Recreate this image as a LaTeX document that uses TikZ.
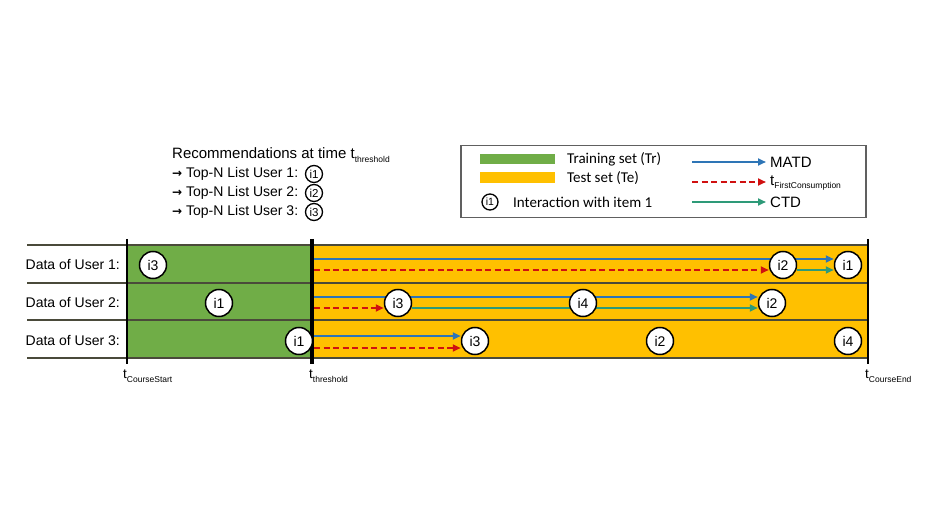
\documentclass[tikz,border=0pt]{standalone}
\usepackage{fontspec}
\setmainfont{Liberation Sans}
\newfontfamily\calib{Carlito}
\newfontfamily\dvs{DejaVu Sans}
\usetikzlibrary{arrows.meta}
\definecolor{trgreen}{HTML}{70AD47}
\definecolor{teyellow}{HTML}{FFC000}
\definecolor{matdblue}{HTML}{2E75B6}
\definecolor{fcred}{HTML}{D01010}
\definecolor{ctdgreen}{HTML}{2E9A78}
\definecolor{rowline}{HTML}{4A4A3A}
\newcommand{\tsub}[1]{t\raisebox{-0.45ex}{\fontsize{8.5}{9}\selectfont #1}}
\newcommand{\rarr}{{\dvs\bfseries\fontsize{12}{12}\selectfont →}}
\pgfdeclarelayer{bg}
\pgfdeclarelayer{mid}
\pgfsetlayers{bg,mid,main}
\begin{document}
\begin{tikzpicture}[x=1pt,y=-1pt,
  item/.style={circle,draw=black,line width=1.5pt,fill=white,minimum size=27pt,inner sep=0pt,font=\fontsize{14}{15}\selectfont},
  smallitem/.style={circle,draw=black,line width=1.3pt,fill=white,minimum size=17pt,inner sep=0pt,font=\fontsize{11.5}{12}\selectfont},
  rowlabel/.style={anchor=east,font=\fontsize{14}{15}\selectfont,inner sep=0pt},
  tlabel/.style={anchor=north west,font=\fontsize{13.5}{15}\selectfont,inner sep=0pt},
  tip/.style={-{Triangle[length=8pt,width=7pt]}},
  matd/.style={tip,draw=matdblue,line width=2.3pt},
  ctd/.style={tip,draw=ctdgreen,line width=2.3pt},
  fcons/.style={tip,draw=fcred,line width=2.3pt,dash pattern=on 6pt off 3.5pt},
  rline/.style={draw=rowline,line width=1.8pt},
  legtext/.style={anchor=west,inner sep=0pt,font=\calib\fontsize{15}{17}\selectfont},
  legtextb/.style={anchor=west,inner sep=0pt,font=\fontsize{15}{17}\selectfont},
  rectext/.style={anchor=west,inner sep=0pt,font=\fontsize{14}{16}\selectfont}]
\useasboundingbox (0,0) rectangle (946,532);

% ---------- background fills ----------
\begin{pgfonlayer}{bg}
\fill[trgreen] (127,245) rectangle (312,358);
\fill[teyellow] (312,245) rectangle (868,358);
\foreach \y in {245,283,320,358} \draw[rline] (27,\y) -- (868,\y);
\draw[black,line width=2.2pt] (127,239) -- (127,364);
\draw[black,line width=2.2pt] (868,239) -- (868,364);
\draw[black,line width=4.5pt] (312,239) -- (312,364);
\end{pgfonlayer}

% ---------- row labels ----------
\node[rowlabel] (u1) at (120,265) {Data of User 1:};
\node[rowlabel] (u2) at (120,303) {Data of User 2:};
\node[rowlabel] (u3) at (120,341) {Data of User 3:};

% ---------- time labels ----------
\node[tlabel] (tcs) at (123,370) {\tsub{CourseStart}};
\node[tlabel] (tth) at (309,370) {\tsub{threshold}};
\node[tlabel] (tce) at (865,370) {\tsub{CourseEnd}};

% ---------- items ----------
\node[item] (a3) at (153,265) {i3};
\node[item] (a2) at (783,265) {i2};
\node[item] (a1) at (848,265) {i1};
\node[item] (b1) at (219,303) {i1};
\node[item] (b3) at (398,303) {i3};
\node[item] (b4) at (583,303) {i4};
\node[item] (b2) at (772,303) {i2};
\node[item] (c1) at (299,341) {i1};
\node[item] (c3) at (475,341) {i3};
\node[item] (c2) at (660,341) {i2};
\node[item] (c4) at (848,341) {i4};

% ---------- start coordinates ----------
\coordinate (bs1) at (314,259);
\coordinate (rs1) at (314,270);
\coordinate (bs2) at (314,297);
\coordinate (rs2) at (314,308);
\coordinate (bs3) at (314,336);
\coordinate (rs3) at (314,348);

\begin{pgfonlayer}{mid}
% user 1
\draw[matd] (bs1) -- (a1.west |- bs1);
\draw[fcons] (rs1) -- (a2.west |- rs1);
\draw[ctd] (a2.east |- rs1) -- (a1.west |- rs1);
% user 2
\draw[matd] (bs2) -- (b2.west |- bs2);
\draw[fcons] (rs2) -- (b3.west |- rs2);
\draw[ctd] (b3.east |- rs2) -- (b2.west |- rs2);
% user 3
\draw[matd] (bs3) -- (c3.west |- bs3);
\draw[fcons] (rs3) -- (c3.west |- rs3);
\end{pgfonlayer}

% ---------- recommendations ----------
\node[rectext,font=\fontsize{15}{16}\selectfont] (rec) at (172,155) {Recommendations at time \tsub{threshold}};
\node[rectext] (l1) at (172,174) {\rarr\ Top-N List User 1:};
\node[rectext] (l2) at (172,193) {\rarr\ Top-N List User 2:};
\node[rectext] (l3) at (172,212) {\rarr\ Top-N List User 3:};
\node[smallitem] (r1) at (314,174) {i1};
\node[smallitem] (r2) at (314,193) {i2};
\node[smallitem] (r3) at (314,212) {i3};

% ---------- legend ----------
\node[draw=gray!75!black,line width=1.5pt,minimum width=405pt,minimum height=72pt,inner sep=0pt,anchor=north west] (leg) at (460,145) {};
\fill[trgreen] (480,154) rectangle (555,164);
\fill[teyellow] (480,172) rectangle (555,183);
\node[legtext] (ltr) at (567,159) {Training set (Tr)};
\node[legtext] (lte) at (567,178) {Test set (Te)};
\node[smallitem,minimum size=16pt,font=\fontsize{10.5}{11}\selectfont] (li) at (490,202) {i1};
\node[legtext] (lit) at (513,202) {Interaction with item 1};
\coordinate (lb0) at (692,162);
\coordinate (lb1) at (766,162);
\coordinate (lr0) at (692,182);
\coordinate (lr1) at (766,182);
\coordinate (lg0) at (692,202);
\coordinate (lg1) at (766,202);
\draw[matd] (lb0) -- (lb1);
\draw[fcons] (lr0) -- (lr1);
\draw[ctd] (lg0) -- (lg1);
\node[legtextb] (lm) at (770,162) {MATD};
\node[legtextb] (lf) at (770,183) {\tsub{FirstConsumption}};
\node[legtextb] (lc) at (770,202) {CTD};
\end{tikzpicture}
\end{document}
